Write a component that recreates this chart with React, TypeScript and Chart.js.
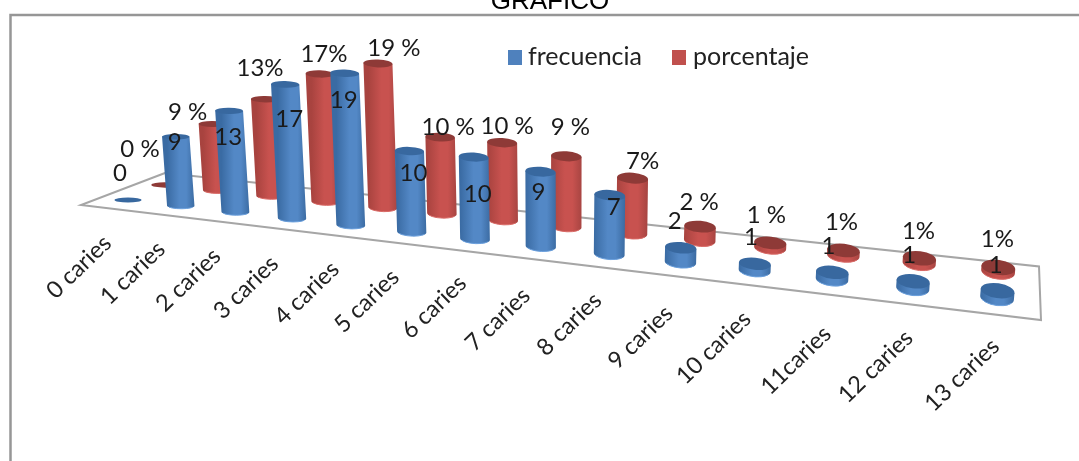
import React, { useEffect, useRef } from "react";
import { Chart, registerables, BarController, BarElement } from "chart.js";

Chart.register(...registerables);

const categorias = ["0 caries","1 caries","2 caries","3 caries","4 caries","5 caries","6 caries","7 caries","8 caries","9 caries","10 caries","11caries","12 caries","13 caries"];
const frecuencia = [0,9,13,17,19,10,10,9,7,2,1,1,1,1];
const porcentaje = [0,9,13,17,19,10,10,9,7,2,1,1,1,1];
const etiquetasPorcentaje = ["0 %","9 %","13%","17%","19 %","10 %","10 %","9 %","7%","2 %","1 %","1%","1%","1%"];
// heights as they read in the picture (the smallest cylinders look shorter than their label)
const alturaFrecuencia = [0,9,13,17,19,10,10,9,7,1.7,0.8,0.8,0.8,0.8];
const alturaPorcentaje = [0,9,13,17,19,10,10,9,7,1.75,0.62,0.62,0.62,0.5];

// label offsets from the top of each cylinder
const despFrecuencia = [[-8,-27],[-1,6],[-1,26],[4,35],[-1,27],[4,22],[4,37],[-2,21],[4,12],[-6,-26],[-4,-26],[-4,-26],[-4,-26],[-2,-25]];
const despPorcentaje = [[-25,-36],[-25,-12],[-5,-31],[4,-20],[16,-15],[8,-10],[5,-16],[4,-29],[10,-17],[-1,-24],[-4,-28],[-2,-28],[-1,-27],[-1,-28]];
const despCategoria = [[-49,67],[-48,67],[-47,68],[-46,69],[-44,68],[-45,69],[-41,68],[-43,73],[-40,70],[-40,75],[-41,77],[-36,81],[-37,78],[-35,77]];

// perspective of the floor: one row per series
const proyFrecuencia = { a: 49.63, c: 128, d: 2.39, e: 200, g: -0.01727, k: 7.6, p: 0.7 };
const proyPorcentaje = { a: 48.46, c: 165, d: 2.41, e: 185, g: -0.01565, k: 7.3, p: 0.6 };
const pisoX = [165, 81, 1041, 1039];
const pisoY = [173, 205, 320, 266.5];

const LATO = "Lato, 'Noto Sans', sans-serif";
const sombras: Record<string, any> = {
  "#4f81bd": { borde: "#3a6ba3", luz: "#5388c6", fin: "#3c6ca3", tapa: "#38689f", aro: "#6a9fdc" },
  "#c0504d": { borde: "#a8433f", luz: "#c8524f", fin: "#a84542", tapa: "#8e3a37", aro: "#d96a66" },
};

function puntos(p: any, alturas: number[]) {
  return alturas.map((v, i) => {
    const den = p.g * i + 1;
    const suelo = (p.d * i + p.e) / den;
    return { x: (p.a * i + p.c) / den, y: [suelo, suelo - (v * p.k) / Math.pow(den, p.p)] };
  });
}

class CylinderElement extends BarElement {
  static id = "cylinder";
  static defaults = { ...BarElement.defaults };
  draw(ctx: CanvasRenderingContext2D) {
    const { x, y, base } = this as any;
    const abajo = Math.max(y, base);
    const arriba = Math.min(y, base);
    const h = abajo - arriba;
    const t = (x - 128) / 870;
    const rx = 13.5 + t * 3.5;
    const ry = 2.5 + t * 5;
    const rot = Math.max(0, t) * 0.14;
    const topX = x + (x - 560) * h * 0.00019;
    const c = sombras[(this as any).options.backgroundColor];
    const cos = Math.cos(rot) * rx;
    const sin = Math.sin(rot) * rx;
    ctx.save();
    if (h > 0.5) {
      const g = ctx.createLinearGradient(x - rx, 0, x + rx, 0);
      g.addColorStop(0, c.borde);
      g.addColorStop(0.45, c.luz);
      g.addColorStop(0.7, c.luz);
      g.addColorStop(1, c.fin);
      ctx.beginPath();
      ctx.moveTo(topX - cos, arriba - sin);
      ctx.lineTo(x - cos, abajo - sin);
      ctx.ellipse(x, abajo, rx, ry, rot, Math.PI, 0, true);
      ctx.lineTo(topX + cos, arriba + sin);
      ctx.closePath();
      ctx.fillStyle = g;
      ctx.fill();
      ctx.beginPath();
      ctx.ellipse(x, abajo, rx - 0.5, ry, rot, Math.PI * 0.85, Math.PI * 0.15, true);
      ctx.strokeStyle = c.aro;
      ctx.lineWidth = 1;
      ctx.stroke();
    }
    ctx.beginPath();
    ctx.ellipse(topX, arriba, rx, ry, rot, 0, Math.PI * 2);
    ctx.fillStyle = c.tapa;
    ctx.fill();
    ctx.restore();
  }
}

class CylinderController extends BarController {
  static id = "cylinder";
  static defaults = { ...BarController.defaults, dataElementType: "cylinder" };
  static overrides = BarController.overrides;
}

Chart.register(CylinderElement as any, CylinderController as any);

const decorado = {
  id: "decorado",
  beforeDatasetsDraw(chart: any) {
    const { ctx, scales } = chart;
    const { x, y } = scales;
    ctx.save();
    // outer frame, running off the page on the right and at the bottom
    ctx.strokeStyle = "#969696";
    ctx.lineWidth = 2.5;
    ctx.beginPath();
    ctx.moveTo(10.5, 461);
    ctx.lineTo(10.5, 15);
    ctx.lineTo(1079, 15);
    ctx.stroke();
    // title, cut by the top of the page
    ctx.fillStyle = "#000";
    ctx.font = "26px 'Liberation Sans', Arial, sans-serif";
    ctx.textAlign = "center";
    ctx.textBaseline = "alphabetic";
    ctx.fillText("GRÁFICO", 550, 9);
    // floor
    ctx.strokeStyle = "#a6a6a6";
    ctx.lineWidth = 2;
    ctx.beginPath();
    pisoX.forEach((px, i) => {
      const X = x.getPixelForValue(px);
      const Y = y.getPixelForValue(pisoY[i]);
      if (i === 0) ctx.moveTo(X, Y);
      else ctx.lineTo(X, Y);
    });
    ctx.closePath();
    ctx.stroke();
    // category labels
    const base = chart.getDatasetMeta(0).data;
    ctx.fillStyle = "#222";
    ctx.font = `23.5px ${LATO}`;
    ctx.textBaseline = "middle";
    categorias.forEach((cat, i) => {
      const el = base[i];
      ctx.save();
      ctx.translate(el.x + despCategoria[i][0], Math.max(el.y, el.base) + despCategoria[i][1]);
      ctx.rotate((-44 * Math.PI) / 180);
      ctx.fillText(cat, 0, 0);
      ctx.restore();
    });
    // legend
    ctx.textAlign = "left";
    ctx.font = `25px ${LATO}`;
    const leyenda = [[508, 528], [672, 693]];
    chart.data.datasets.forEach((ds: any, i: number) => {
      ctx.fillStyle = ds.backgroundColor;
      ctx.fillRect(leyenda[i][0], 50, 14, 15);
      ctx.fillStyle = "#222";
      ctx.fillText(ds.label, leyenda[i][1], 57);
    });
    ctx.restore();
  },
  afterDatasetsDraw(chart: any) {
    const { ctx } = chart;
    ctx.save();
    ctx.fillStyle = "#1a1a1a";
    ctx.font = `24px ${LATO}`;
    ctx.textAlign = "center";
    ctx.textBaseline = "middle";
    const rotula = (di: number, textos: any[], desp: number[][]) => {
      chart.getDatasetMeta(di).data.forEach((el: any, i: number) => {
        const arriba = Math.min(el.y, el.base);
        const h = Math.abs(el.y - el.base);
        const tx = el.x + (el.x - 560) * h * 0.00019;
        ctx.fillText(String(textos[i]), tx + desp[i][0], arriba + desp[i][1]);
      });
    };
    rotula(1, etiquetasPorcentaje, despPorcentaje);
    rotula(0, frecuencia, despFrecuencia);
    ctx.restore();
  },
};

export default function App() {
  const ref = useRef<HTMLCanvasElement>(null);
  useEffect(() => {
    const chart = new Chart(ref.current as any, {
      type: "cylinder" as any,
      data: {
        datasets: [
          { label: "frecuencia", data: puntos(proyFrecuencia, alturaFrecuencia) as any, backgroundColor: "#4f81bd", grouped: false } as any,
          { label: "porcentaje", data: puntos(proyPorcentaje, alturaPorcentaje) as any, backgroundColor: "#c0504d", grouped: false } as any,
        ],
      },
      options: {
        animation: false,
        responsive: false,
        layout: { padding: 0 },
        plugins: { legend: { display: false }, tooltip: { enabled: false } },
        scales: {
          x: { type: "linear", min: 0, max: 1079, display: false, offset: false },
          y: { type: "linear", min: 0, max: 461, reverse: true, display: false, beginAtZero: false },
        },
      } as any,
      plugins: [decorado as any],
    });
    return () => chart.destroy();
  }, []);
  return (
    <div style={{ position: "absolute", left: 0, top: 0, width: 1079, height: 461, background: "#fff", overflow: "hidden" }}>
      <canvas ref={ref} width={1079} height={461} style={{ display: "block" }} />
    </div>
  );
}
